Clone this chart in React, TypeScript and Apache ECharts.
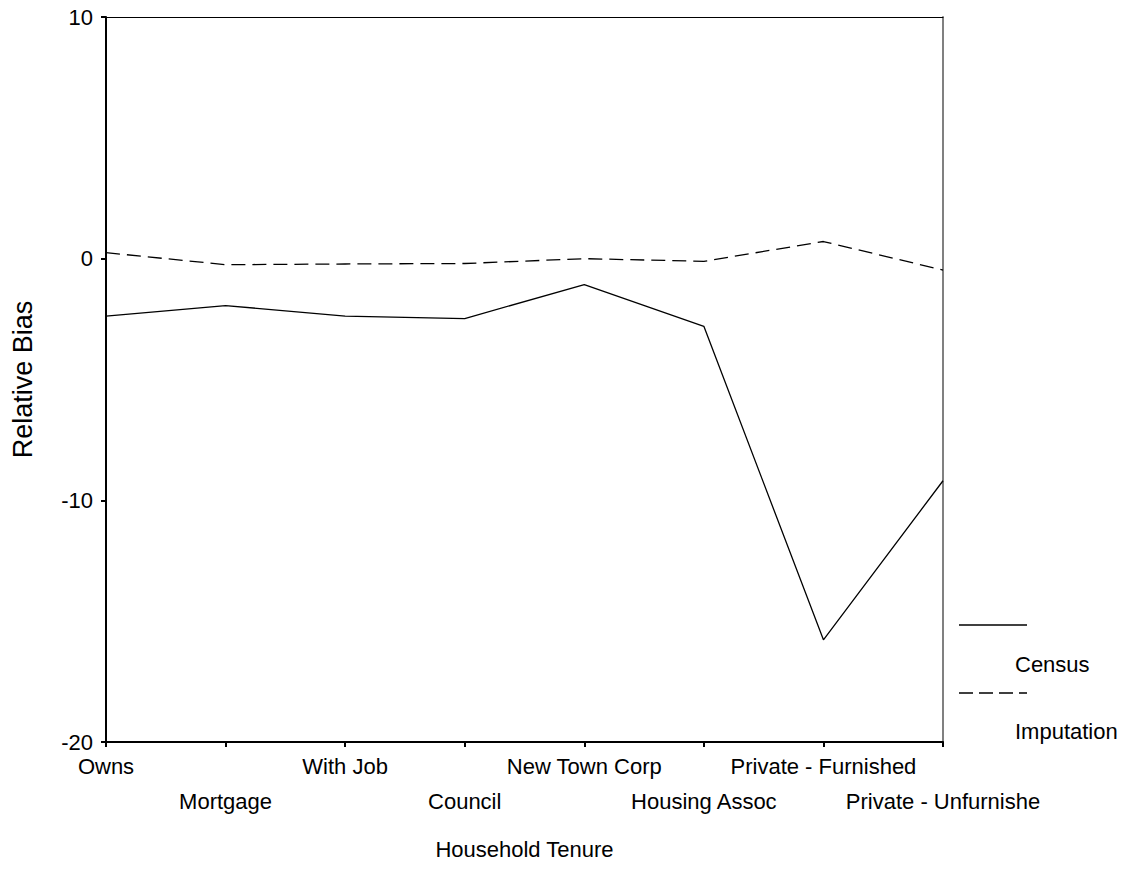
import React, { useEffect, useRef } from "react";
import * as echarts from "echarts";

const categories = [
  "Owns",
  "Mortgage",
  "With Job",
  "Council",
  "New Town Corp",
  "Housing Assoc",
  "Private - Furnished",
  "Private - Unfurnishe",
];
const censusValues = [-2.38, -1.94, -2.38, -2.48, -1.07, -2.8, -15.77, -9.19];
const imputationValues = [0.25, -0.25, -0.22, -0.2, 0.0, -0.11, 0.71, -0.47];
const yTicks = { min: -20, max: 10, interval: 10 };
const seriesNames = ["Census", "Imputation"];

const FONT = "'Liberation Sans', Arial, sans-serif";
const FS = 22;

export default function App() {
  const ref = useRef<HTMLDivElement>(null);
  useEffect(() => {
    if (!ref.current) return;
    const chart = echarts.init(ref.current, undefined, { renderer: "svg" });
    chart.setOption({
      animation: false,
      backgroundColor: "#ffffff",
      grid: { left: 106, right: 187, top: 17, bottom: 152, containLabel: false },
      xAxis: [
        {
          type: "category",
          data: categories,
          boundaryGap: false,
          position: "bottom",
          name: "Household Tenure",
          nameLocation: "middle",
          nameGap: 96,
          nameTextStyle: { fontFamily: FONT, fontSize: FS, color: "#000", lineHeight: 22 },
          axisLine: { show: true, onZero: false, lineStyle: { color: "#000", width: 2 } },
          axisTick: { show: true, inside: false, length: 5, alignWithLabel: true, lineStyle: { color: "#000", width: 2 } },
          axisLabel: {
            interval: 0,
            margin: 7,
            fontFamily: FONT,
            fontSize: FS,
            color: "#000",
            lineHeight: 35,
            formatter: (v: string, i: number) => (i % 2 === 1 ? "\n" + v : v),
          },
          splitLine: { show: false },
        },
        {
          type: "category",
          data: categories,
          boundaryGap: false,
          position: "top",
          axisLine: { show: true, onZero: false, lineStyle: { color: "#000", width: 1 } },
          axisTick: { show: false },
          axisLabel: { show: false },
          splitLine: { show: false },
        },
      ],
      yAxis: [
        {
          type: "value",
          min: yTicks.min,
          max: yTicks.max,
          interval: yTicks.interval,
          position: "left",
          name: "Relative Bias",
          nameLocation: "middle",
          nameRotate: 90,
          nameGap: 70,
          nameTextStyle: { fontFamily: FONT, fontSize: 27, color: "#000", lineHeight: 27 },
          axisLine: { show: true, onZero: false, lineStyle: { color: "#000", width: 2 } },
          axisTick: { show: true, inside: false, length: 5, lineStyle: { color: "#000", width: 2 } },
          axisLabel: { margin: 13, fontFamily: FONT, fontSize: FS, color: "#000" },
          splitLine: { show: false },
        },
        {
          type: "value",
          min: yTicks.min,
          max: yTicks.max,
          interval: yTicks.interval,
          position: "right",
          axisLine: { show: true, onZero: false, lineStyle: { color: "#808080", width: 2 } },
          axisTick: { show: false },
          axisLabel: { show: false },
          splitLine: { show: false },
        },
      ],
      series: [
        {
          name: seriesNames[0],
          type: "line",
          data: censusValues,
          symbol: "none",
          lineStyle: { color: "#000", width: 1.3, type: "solid" },
        },
        {
          name: seriesNames[1],
          type: "line",
          data: imputationValues,
          symbol: "none",
          lineStyle: { color: "#000", width: 1.3, type: [14, 7] },
        },
      ],
      graphic: [
        { type: "line", shape: { x1: 959, y1: 625, x2: 1027, y2: 625 }, style: { stroke: "#000", lineWidth: 1.3 } },
        {
          type: "text",
          x: 1015,
          y: 664,
          style: { text: seriesNames[0], fontFamily: FONT, fontSize: FS, fill: "#000", verticalAlign: "middle", align: "left" },
        },
        { type: "line", shape: { x1: 959, y1: 693, x2: 1027, y2: 693 }, style: { stroke: "#000", lineWidth: 1.3, lineDash: [14, 6] } },
        {
          type: "text",
          x: 1015,
          y: 731,
          style: { text: seriesNames[1], fontFamily: FONT, fontSize: FS, fill: "#000", verticalAlign: "middle", align: "left" },
        },
      ],
    });
    return () => chart.dispose();
  }, []);
  return (
    <div
      ref={ref}
      style={{ position: "absolute", left: 0, top: 0, width: 1130, height: 894 }}
    />
  );
}
